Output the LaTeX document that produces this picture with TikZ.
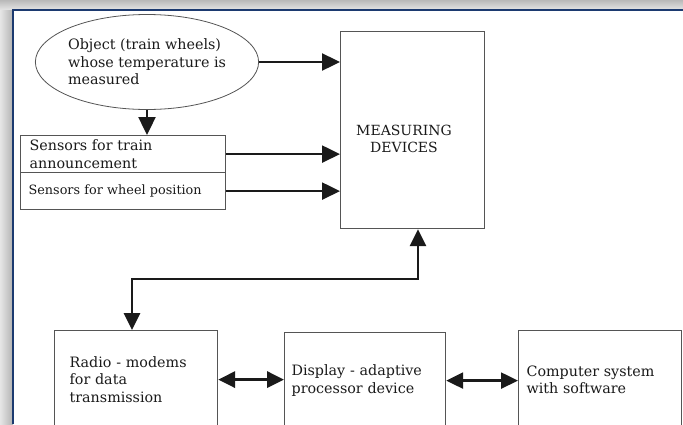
\documentclass[tikz,border=0pt]{standalone}
\usepackage{fontspec}
\setmainfont{DejaVu Serif}
\usetikzlibrary{arrows.meta,shapes.geometric}
\definecolor{framebl}{HTML}{1C3A70}
\definecolor{boxgray}{HTML}{555555}
\definecolor{ink}{HTML}{1A1A1A}
\begin{document}
\begin{tikzpicture}[x=1pt,y=-1pt,
  box/.style={draw=boxgray,line width=1.2pt,fill=white,rectangle,anchor=north west,
    inner ysep=0pt,align=left,text=ink,font=\fontsize{14.3}{17.5}\selectfont},
  txt/.style={text=ink,font=\fontsize{14}{17.5}\selectfont,inner sep=0pt},
  arr/.style={draw=ink,line width=2.4pt,-{Triangle[length=18pt,width=17pt]}},
  biarr/.style={draw=ink,line width=2.4pt,{Triangle[length=17pt,width=16pt]}-{Triangle[length=17pt,width=16pt]}},
]
\useasboundingbox (0,0) rectangle (683,424);
\fill[top color=gray!55,bottom color=gray!20] (0,0) rectangle (683,10);
\fill[left color=gray!20,right color=gray!60] (0,10) rectangle (13,424);
\fill[white] (13,10) rectangle (683,424);
\draw[framebl,line width=2pt] (13,424) -- (13,10) -- (683,10);

% ellipse
\node[ellipse,draw=boxgray,line width=0.8pt,minimum width=222pt,minimum height=95pt,
  inner sep=0pt,align=left,text=ink,font=\fontsize{14.3}{17.5}\selectfont] (obj) at (147,62)
  {Object (train wheels)\\whose temperature is\\measured};

% measuring devices
\node[box,minimum width=144pt,minimum height=197pt,inner xsep=0pt] (meas) at (340,31) {};
\node[txt,align=center] (meastext) at (404,139) {MEASURING\\DEVICES};

% sensors
\node[box,minimum width=205pt,minimum height=37pt,inner xsep=9pt,text width=187pt] (sens1) at (20,135)
  {Sensors for train\\announcement};
\node[box,minimum width=205pt,minimum height=37pt,inner xsep=8pt,text width=189pt,
  font=\fontsize{12.8}{15}\selectfont] (sens2) at (20,172) {Sensors for wheel position};

% bottom boxes
\node[box,minimum width=163pt,minimum height=98pt,inner xsep=15pt,text width=133pt] (radio) at (54,330)
  {Radio - modems\\for data\\transmission};
\node[box,minimum width=161pt,minimum height=96pt,inner xsep=7pt,text width=147pt] (disp) at (284,332)
  {Display - adaptive\\processor device};
\node[box,minimum width=163pt,minimum height=98pt,inner xsep=8pt,text width=147pt] (comp) at (518,330)
  {Computer system\\with software};

% connectors
\draw[arr] (obj.east) -- (obj.east -| meas.west);
\draw[arr] (obj.south) -- (sens1.north -| obj.south);
\draw[arr] (sens1.east) -- (sens1.east -| meas.west);
\draw[arr] (sens2.east) -- (sens2.east -| meas.west);
\coordinate (ra) at (132,279);
\coordinate (ma) at (418,279);
\draw[biarr,line width=2.8pt] (radio.north -| ra) |- (ma) -- (meas.south -| ma);
\draw[biarr,line width=3.4pt] (radio.east) -- (disp.west |- radio.east);
\draw[biarr] (disp.east) -- (comp.west |- disp.east);
\end{tikzpicture}
\end{document}
